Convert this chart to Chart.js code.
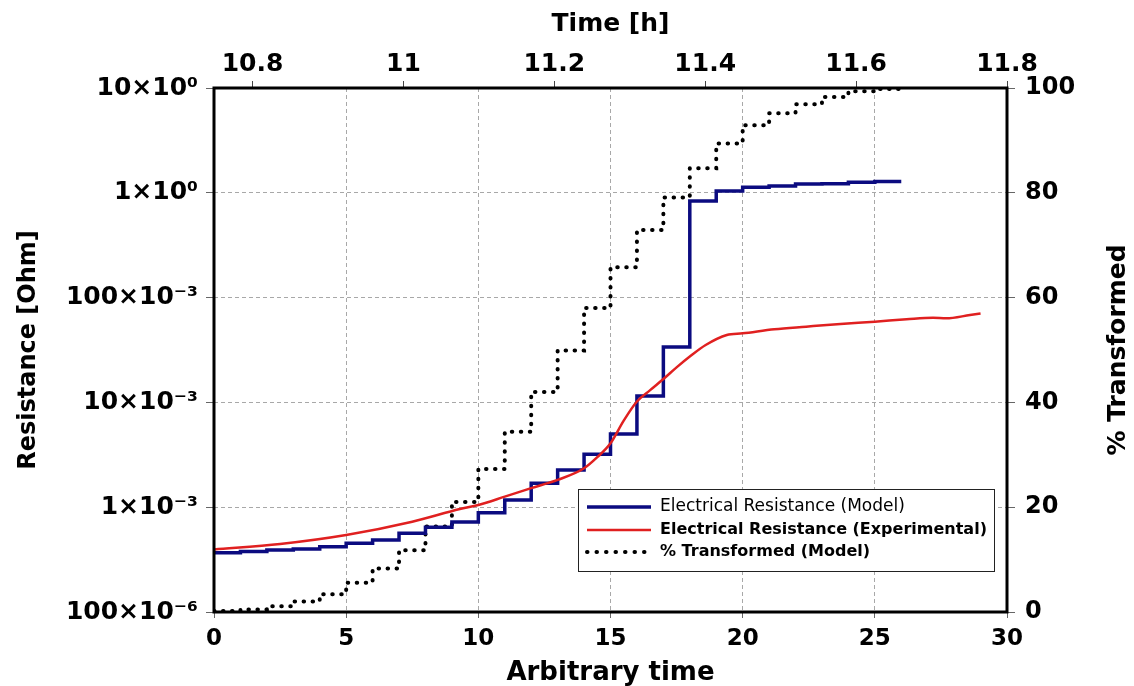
<!DOCTYPE html>
<html><head><meta charset="utf-8">
<script src="https://cdn.jsdelivr.net/npm/chart.js@4/dist/chart.umd.min.js"></script>
<style>html,body{margin:0;padding:0;background:#fff}#w{width:1134px;height:686px;position:relative}</style>
</head><body><div id="w"><canvas id="c"></canvas></div>
<script>
// ---- data ----
const stepTimes = [0,1,2,3,4,5,6,7,8,9,10,11,12,13,14,15,16,17,18,19,20,21,22,23,24,25,26];
const modelResistance = [3.68e-4,3.78e-4,3.9e-4,3.99e-4,4.2e-4,4.53e-4,4.86e-4,5.64e-4,6.43e-4,7.22e-4,8.86e-4,1.17e-3,1.69e-3,2.26e-3,3.2e-3,4.99e-3,1.15e-2,3.38e-2,0.835,1.04,1.13,1.16,1.21,1.22,1.26,1.28,1.28];
const transformedPct = [0.2,0.5,1.1,2.0,3.4,5.6,8.3,11.8,16.3,21.0,27.3,34.4,42.0,49.9,58.0,65.8,72.9,79.1,84.7,89.4,92.9,95.2,96.9,98.3,99.4,99.8,99.8];
const expTimes = [0,2.5,5,7.5,9.3,10,11,12,13,14,14.5,15,15.5,16,16.5,17,17.5,18,18.6,19.4,20,21.2,22.4,23.7,25,26.2,27.2,27.7,28.6,29];
const expResistance = [3.95e-4,4.46e-4,5.43e-4,7.27e-4,9.6e-4,1.05e-3,1.26e-3,1.52e-3,1.82e-3,2.35e-3,3.0e-3,4.07e-3,6.7e-3,1.02e-2,1.31e-2,1.67e-2,2.16e-2,2.74e-2,3.53e-2,4.4e-2,4.56e-2,4.99e-2,5.28e-2,5.6e-2,5.89e-2,6.21e-2,6.43e-2,6.34e-2,6.82e-2,7.05e-2];
const bottomTicks = [0,5,10,15,20,25,30];
const topTickValues = [10.8,11,11.2,11.4,11.6,11.8];
const topTickLabels = ['10.8','11','11.2','11.4','11.6','11.8'];
const resTickValues = [1e-4,1e-3,1e-2,1e-1,1,10];
const resTickLabels = ['100\u00d710\u207b\u2076','1\u00d710\u207b\u00b3','10\u00d710\u207b\u00b3','100\u00d710\u207b\u00b3','1\u00d710\u2070','10\u00d710\u2070'];
const pctTicks = [0,20,40,60,80,100];
const seriesNames = ['Electrical Resistance (Model)','Electrical Resistance (Experimental)','% Transformed (Model)'];

const FONT = "'DejaVu Sans', sans-serif";
Chart.defaults.font.family = FONT;
Chart.defaults.color = '#000';

const BLUE = '#0b0b80', RED = '#e02020';
const GRID = '#a8a8a8';

const toXY = (xs, ys) => xs.map((x, i) => ({x: x, y: ys[i]}));

const frameLegend = {
  id: 'frameLegend',
  afterDatasetsDraw(chart) {
    const {ctx, chartArea: a} = chart;
    ctx.save();
    ctx.strokeStyle = '#000'; ctx.lineWidth = 3;
    ctx.strokeRect(a.left, a.top, a.right - a.left, a.bottom - a.top);
    // legend box
    const bx = 578, by = 489, bw = 416, bh = 82;
    ctx.fillStyle = '#fff'; ctx.fillRect(bx, by, bw, bh);
    ctx.lineWidth = 1; ctx.strokeStyle = '#222'; ctx.strokeRect(bx + 0.5, by + 0.5, bw, bh);
    const rows = [507, 530, 552];
    const styles = [
      {c: BLUE, w: 3.5, d: [], cap: 'butt', f: 'normal 17px'},
      {c: RED, w: 2.5, d: [], cap: 'butt', f: 'bold 16px'},
      {c: '#000', w: 4, d: [0.5, 9], cap: 'round', f: 'bold 16px'}
    ];
    rows.forEach((y, i) => {
      const s = styles[i];
      ctx.beginPath(); ctx.setLineDash(s.d); ctx.lineCap = s.cap;
      ctx.strokeStyle = s.c; ctx.lineWidth = s.w;
      ctx.moveTo(587, y); ctx.lineTo(651, y); ctx.stroke();
      ctx.setLineDash([]);
      ctx.fillStyle = '#000'; ctx.font = s.f + ' ' + FONT;
      ctx.textAlign = 'left'; ctx.textBaseline = 'middle';
      ctx.fillText(seriesNames[i], 660, y);
    });
    ctx.restore();
  },
  afterDraw(chart) {
    const {ctx, chartArea: a} = chart;
    ctx.save();
    ctx.translate(1118, (a.top + a.bottom) / 2);
    ctx.rotate(-Math.PI / 2);
    ctx.font = 'bold 25px ' + FONT; ctx.fillStyle = '#000';
    ctx.textAlign = 'center'; ctx.textBaseline = 'middle';
    ctx.fillText('% Transformed', 0, 0);
    ctx.restore();
  }
};

new Chart(document.getElementById('c'), {
  type: 'line',
  data: {
    datasets: [
      {label: seriesNames[1], data: toXY(expTimes, expResistance), xAxisID: 'x', yAxisID: 'y',
       borderColor: RED, borderWidth: 2.5, pointRadius: 0, cubicInterpolationMode: 'monotone', order: 0},
      {label: seriesNames[0], data: toXY(stepTimes, modelResistance), xAxisID: 'x', yAxisID: 'y',
       borderColor: BLUE, borderWidth: 3.5, pointRadius: 0, stepped: true, order: 1},
      {label: seriesNames[2], data: toXY(stepTimes, transformedPct), xAxisID: 'x', yAxisID: 'y2',
       borderColor: '#000', borderWidth: 4, borderDash: [0.5, 8.5], borderCapStyle: 'round',
       pointRadius: 0, stepped: true, order: 2}
    ]
  },
  options: {
    responsive: true, maintainAspectRatio: false, animation: false,
    layout: {padding: 0},
    plugins: {legend: {display: false}, tooltip: {enabled: false}},
    scales: {
      x: {
        type: 'linear', position: 'bottom', min: 0, max: 30,
        afterBuildTicks: s => { s.ticks = bottomTicks.map(v => ({value: v})); },
        afterFit: s => { s.height = 74; },
        ticks: {font: {size: 23, weight: 'bold'}, color: '#000', padding: 7, maxRotation: 0, autoSkip: false},
        grid: {color: GRID, lineWidth: 1, tickLength: 6, tickColor: '#666'},
        border: {display: false, dash: [4, 3]},
        title: {display: true, text: 'Arbitrary time', font: {size: 26, weight: 'bold', lineHeight: 1}, color: '#000', padding: 0}
      },
      xTop: {
        type: 'linear', position: 'top', min: 10.749, max: 11.8,
        afterBuildTicks: s => { s.ticks = topTickValues.map(v => ({value: v})); },
        afterFit: s => { s.height = 88; },
        ticks: {font: {size: 25, weight: 'bold'}, color: '#000', padding: 2, maxRotation: 0, autoSkip: false,
                callback: (v) => { const i = topTickValues.findIndex(t => Math.abs(t - v) < 1e-6); return i >= 0 ? topTickLabels[i] : ''; }},
        grid: {drawOnChartArea: false, tickLength: 7, tickColor: '#444'},
        border: {display: false},
        title: {display: true, text: 'Time [h]', font: {size: 25, weight: 'bold'}, color: '#000', padding: {top: 9, bottom: 0}}
      },
      y: {
        type: 'logarithmic', position: 'left', min: 1e-4, max: 10,
        afterBuildTicks: s => { s.ticks = resTickValues.map(v => ({value: v})); },
        afterFit: s => { s.width = 214; },
        ticks: {font: {size: 25, weight: 'bold'}, color: '#000', padding: 8, autoSkip: false,
                callback: (v) => { const i = resTickValues.findIndex(t => Math.abs(Math.log10(t) - Math.log10(v)) < 1e-6); return i >= 0 ? resTickLabels[i] : ''; }},
        grid: {color: GRID, lineWidth: 1, tickLength: 8, tickColor: '#666'},
        border: {display: false, dash: [4, 3]},
        title: {display: true, text: 'Resistance [Ohm]', font: {size: 24, weight: 'bold'}, color: '#000', padding: {top: 14, bottom: 0}}
      },
      y2: {
        type: 'linear', position: 'right', min: 0, max: 100,
        afterBuildTicks: s => { s.ticks = pctTicks.map(v => ({value: v})); },
        afterFit: s => { s.width = 127; },
        ticks: {font: {size: 24, weight: 'bold'}, color: '#000', padding: 10, autoSkip: false},
        grid: {drawOnChartArea: false, tickLength: 8, tickColor: '#666'},
        border: {display: false}
      }
    }
  },
  plugins: [frameLegend]
});
</script>
</body></html>
